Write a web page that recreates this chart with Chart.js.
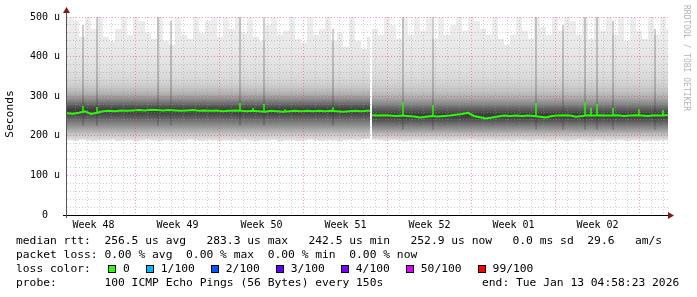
<!DOCTYPE html>
<html>
<head>
<meta charset="utf-8">
<script src="https://cdn.jsdelivr.net/npm/chart.js@4"></script>
<style>
  body { margin: 0; background: #fff; }
  #wrap { position: relative; width: 697px; height: 297px; overflow: hidden; }
  canvas { position: absolute; left: 0; top: 0; }
  .txt { position: absolute; font-family: 'DejaVu Sans Mono', monospace; font-size: 11.3px; line-height: 14px; white-space: pre; color: #000; }
  .box { position: absolute; width: 6px; height: 6px; border: 1px solid #000; }
</style>
</head>
<body>
<div id="wrap">
  <canvas id="smoke" width="697" height="297"></canvas>
  <div id="legend"></div>
</div>
<script>
// hours relative to Mon Dec 1 2025 00:00 (start of week 49)
// two runs of samples, the white gap between them is missing data
var seg1Hours = [];
for (var i = 0; i < 51; i++) seg1Hours.push(-137 + 12 * i);
seg1Hours.push(469);
var seg2Hours = [];
for (var j = 0; j < 50; j++) seg2Hours.push(473 + 12 * j);
seg2Hours.push(1065);

// median rtt in microseconds
var seg1Median = [257, 256, 258, 262, 255, 258, 262, 263, 262, 264,
                  263, 264, 265, 264, 266, 265, 264, 265, 264, 263,
                  264, 265, 263, 264, 263, 264, 262, 263, 264, 263,
                  262, 263, 262, 261, 263, 262, 261, 262, 263, 262,
                  263, 262, 263, 262, 263, 262, 261, 262, 263, 262,
                  263, 263];
var seg2Median = [252, 251, 252, 251, 250, 251, 250, 249, 246, 248,
                  250, 249, 250, 251, 253, 255, 258, 250, 247, 244,
                  246, 249, 251, 250, 251, 250, 251, 250, 248, 246,
                  250, 251, 252, 251, 248, 250, 252, 251, 252, 251,
                  251, 252, 250, 251, 252, 251, 250, 252, 251, 252,
                  252];

// upper and lower edge of the smoke (slowest / fastest pings)
var seg1Top = [500, 490, 450, 500, 470, 500, 450, 440, 470, 500,
               455, 500, 490, 460, 445, 500, 440, 430, 500, 455,
               445, 500, 460, 490, 500, 450, 500, 470, 500, 460,
               500, 450, 440, 480, 500, 455, 465, 500, 445, 435,
               500, 455, 470, 500, 440, 460, 425, 500, 440, 420,
               450, 450];
var seg2Top = [470, 455, 500, 480, 445, 500, 455, 500, 465, 500,
               445, 500, 455, 480, 500, 465, 500, 490, 470, 455,
               500, 445, 430, 455, 500, 465, 445, 500, 475, 455,
               500, 465, 500, 490, 455, 500, 445, 500, 465, 500,
               455, 500, 440, 500, 465, 445, 500, 455, 500, 470,
               470];
var seg1Bottom = [189, 187, 190, 188, 186, 189, 188, 190, 187, 188,
                  189, 186, 188, 190, 188, 187, 189, 188, 186, 188,
                  190, 188, 187, 189, 188, 186, 188, 189, 187, 190,
                  188, 187, 189, 188, 190, 186, 188, 189, 187, 188,
                  190, 188, 187, 189, 188, 186, 189, 190, 188, 191,
                  192, 192];
var seg2Bottom = [190, 188, 187, 189, 188, 186, 188, 189, 187, 188,
                  189, 186, 188, 187, 189, 188, 190, 187, 186, 188,
                  189, 187, 188, 186, 189, 188, 187, 189, 188, 186,
                  188, 189, 187, 188, 190, 188, 187, 189, 188, 186,
                  188, 189, 187, 188, 189, 186, 188, 187, 189, 188,
                  188];

// dark columns in the smoke
var streakHours = [-105, -77, 45, 71, 209, 257, 395, 535, 595, 801, 855, 899, 923, 955, 1039];
var streakBase  = [225, 225, 225, 225, 225, 225, 225, 215, 215, 215, 215, 215, 215, 215, 215];
var streakTop   = [480, 500, 500, 490, 500, 500, 470, 500, 500, 500, 480, 500, 500, 490, 470];

// short jumps of the median line
var spikeHours = [-105, -77, 209, 235, 257, 299, 395, 535, 595, 801, 899, 911, 923, 955, 1007, 1055];
var spikeBase  = [257, 258, 263, 262, 262, 262, 263, 251, 250, 250, 250, 251, 251, 251, 251, 251];
var spikeTop   = [276, 273, 283, 270, 281, 267, 272, 286, 278, 283, 286, 270, 280, 271, 267, 265];

var weekLabels = ["Week 48", "Week 49", "Week 50", "Week 51", "Week 52", "Week 01", "Week 02"];
var lossLabels = ["0", "1/100", "2/100", "3/100", "4/100", "50/100", "99/100"];
var lossColors = ["#26ff00", "#00b8ff", "#0059ff", "#5e00ff", "#7e00ff", "#dd00ff", "#ff0000"];

var majorGrid = "rgba(225,70,70,0.5)";
var minorGrid = "rgba(150,150,150,0.45)";
var none = "rgba(0,0,0,0)";

// grey shades of the smoke, darkest at the median
var smoke1Stops = [[500, "#eeeeee"], [420, "#e8e8e8"], [370, "#e0e0e0"], [340, "#d6d6d6"], [320, "#c6c6c6"],
                   [305, "#aeaeae"], [292, "#8e8e8e"], [281, "#6b6b6b"], [272, "#4e4e4e"], [265, "#3c3c3c"],
                   [257, "#444444"], [248, "#585858"], [238, "#727272"], [226, "#8f8f8f"], [214, "#adadad"],
                   [202, "#c9c9c9"], [190, "#dfdfdf"], [184, "#e6e6e6"]];
var smoke2Stops = [[500, "#eeeeee"], [420, "#e8e8e8"], [370, "#e0e0e0"], [340, "#d6d6d6"], [315, "#c6c6c6"],
                   [297, "#aeaeae"], [283, "#8e8e8e"], [271, "#6b6b6b"], [261, "#4e4e4e"], [253, "#3c3c3c"],
                   [246, "#444444"], [238, "#585858"], [229, "#727272"], [219, "#8f8f8f"], [209, "#adadad"],
                   [199, "#c9c9c9"], [190, "#dfdfdf"], [184, "#e6e6e6"]];

function makeGradient(stops) {
    return function (context) {
        var chart = context.chart;
        if (!chart.chartArea) return "#ccc";
        var y = chart.scales.y;
        var y0 = y.getPixelForValue(stops[0][0]);
        var y1 = y.getPixelForValue(stops[stops.length - 1][0]);
        var g = chart.ctx.createLinearGradient(0, y0, 0, y1);
        stops.forEach(function (s) {
            g.addColorStop((y.getPixelForValue(s[0]) - y0) / (y1 - y0), s[1]);
        });
        return g;
    };
}

function points(hours, values) {
    return hours.map(function (h, k) { return { x: h, y: values[k] }; });
}

// vertical strokes: base -> top, then a gap
function strokes(hours, base, top) {
    var d = [];
    hours.forEach(function (h, k) {
        d.push({ x: h, y: base[k] }, { x: h, y: top[k] }, { x: h, y: null });
    });
    return d;
}

var decor = {
    id: "decor",
    afterDraw: function (chart) {
        var ctx = chart.ctx, a = chart.chartArea;
        ctx.save();
        ctx.lineWidth = 1;
        ctx.strokeStyle = "#000";
        ctx.beginPath();
        ctx.moveTo(a.left - 4, a.bottom + 0.5);
        ctx.lineTo(a.right + 2, a.bottom + 0.5);
        ctx.stroke();
        ctx.strokeStyle = "#555";
        ctx.beginPath();
        ctx.moveTo(a.left - 0.5, a.bottom + 3);
        ctx.lineTo(a.left - 0.5, a.top - 6);
        ctx.stroke();
        ctx.fillStyle = "#8b1414";
        ctx.beginPath();
        ctx.moveTo(a.left - 4, a.top - 4);
        ctx.lineTo(a.left + 3, a.top - 4);
        ctx.lineTo(a.left - 0.5, a.top - 10);
        ctx.fill();
        ctx.beginPath();
        ctx.moveTo(a.right, a.bottom - 3);
        ctx.lineTo(a.right, a.bottom + 4);
        ctx.lineTo(a.right + 6, a.bottom + 0.5);
        ctx.fill();

        ctx.fillStyle = "#000";
        ctx.font = "11.3px 'DejaVu Sans Mono'";
        ctx.textAlign = "center";
        ctx.textBaseline = "middle";
        ctx.translate(10, 114);
        ctx.rotate(-Math.PI / 2);
        ctx.fillText("Seconds", 0, 0);
        ctx.restore();

        ctx.save();
        ctx.fillStyle = "#b4b4b4";
        ctx.font = "8px 'DejaVu Sans Mono'";
        ctx.textAlign = "left";
        ctx.textBaseline = "middle";
        ctx.translate(686, 5);
        ctx.rotate(Math.PI / 2);
        ctx.fillText("RRDTOOL / TOBI OETIKER", 0, 0);
        ctx.restore();
    }
};

var thin = { pointRadius: 0, tension: 0, fill: false };

new Chart("smoke", {
    type: "line",
    data: {
        datasets: [
            Object.assign({ data: points(seg1Hours, seg1Median), borderColor: lossColors[0], borderWidth: 2, order: 0 }, thin),
            Object.assign({ data: points(seg2Hours, seg2Median), borderColor: lossColors[0], borderWidth: 2, order: 0 }, thin),
            Object.assign({ data: strokes(spikeHours, spikeBase, spikeTop), borderColor: lossColors[0], borderWidth: 1.5, order: 1 }, thin),
            Object.assign({ data: strokes(streakHours, streakBase, streakTop), borderColor: "rgba(50,50,50,0.4)", borderWidth: 1.2, order: 2 }, thin),
            { data: points(seg1Hours, seg1Top), stepped: true, pointRadius: 0, borderColor: none, borderWidth: 0,
              backgroundColor: makeGradient(smoke1Stops), fill: "+1", order: 3 },
            { data: points(seg1Hours, seg1Bottom), stepped: true, pointRadius: 0, borderColor: none, borderWidth: 0, fill: false, order: 4 },
            { data: points(seg2Hours, seg2Top), stepped: true, pointRadius: 0, borderColor: none, borderWidth: 0,
              backgroundColor: makeGradient(smoke2Stops), fill: "+1", order: 3 },
            { data: points(seg2Hours, seg2Bottom), stepped: true, pointRadius: 0, borderColor: none, borderWidth: 0, fill: false, order: 4 }
        ]
    },
    options: {
        responsive: false,
        animation: false,
        devicePixelRatio: 1,
        layout: { padding: { left: 0, right: 29, top: 17, bottom: 0 } },
        plugins: { legend: { display: false }, tooltip: { enabled: false } },
        scales: {
            x: {
                type: "linear",
                min: -137,
                max: 1065,
                afterBuildTicks: function (scale) {
                    var t = [];
                    for (var h = -132; h <= 1056; h += 12) t.push({ value: h });
                    scale.ticks = t;
                },
                afterFit: function (scale) { scale.height = 82; },
                grid: {
                    z: 1,
                    drawTicks: false,
                    color: function (c) {
                        if (!c.tick) return none;
                        var v = c.tick.value;
                        if (v % 168 === 0) return majorGrid;
                        if (v % 24 === 0) return minorGrid;
                        return none;
                    }
                },
                border: { display: false, dash: [1, 2] },
                ticks: {
                    autoSkip: false,
                    maxRotation: 0,
                    padding: 4,
                    color: "#000",
                    font: { family: "'DejaVu Sans Mono'", size: 10 },
                    callback: function (v) {
                        var k = (v + 84) / 168;
                        return (Number.isInteger(k) && weekLabels[k]) ? weekLabels[k] : "";
                    }
                }
            },
            y: {
                min: 0,
                max: 500,
                afterFit: function (scale) { scale.width = 67; },
                grid: {
                    z: 1,
                    drawTicks: false,
                    color: function (c) {
                        if (!c.tick || c.tick.value === 0) return none;
                        return c.tick.value % 100 === 0 ? majorGrid : minorGrid;
                    }
                },
                border: { display: false, dash: [1, 2] },
                ticks: {
                    autoSkip: false,
                    stepSize: 20,
                    padding: 7,
                    color: "#000",
                    font: { family: "'DejaVu Sans Mono'", size: 10 },
                    callback: function (v) {
                        if (v % 100 !== 0) return "";
                        return v === 0 ? "0  " : v + " u";
                    }
                }
            }
        }
    },
    plugins: [decor]
});

// legend text under the graph
var legend = document.getElementById("legend");
function addText(str, left, top) {
    var d = document.createElement("div");
    d.className = "txt";
    d.style.left = left + "px";
    d.style.top = top + "px";
    d.textContent = str;
    legend.appendChild(d);
}
addText("median rtt:  256.5 us avg   283.3 us max   242.5 us min   252.9 us now   0.0 ms sd  29.6   am/s", 16, 234);
addText("packet loss: 0.00 % avg  0.00 % max  0.00 % min  0.00 % now", 16, 248);
addText("loss color:", 16, 262);
var bx = 108;
lossLabels.forEach(function (lab, k) {
    var b = document.createElement("div");
    b.className = "box";
    b.style.left = bx + "px";
    b.style.top = "265px";
    b.style.background = lossColors[k];
    legend.appendChild(b);
    addText(lab, bx + 15, 262);
    bx += 15 + lab.length * 6.8 + 16;
});
addText("probe:       100 ICMP Echo Pings (56 Bytes) every 150s", 16, 276);
addText("end: Tue Jan 13 04:58:23 2026", 482, 276);
</script>
</body>
</html>
